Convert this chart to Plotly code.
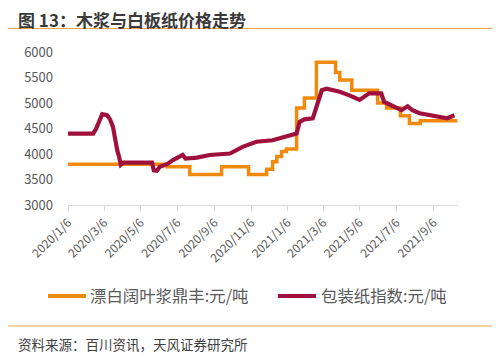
import plotly.graph_objects as go

# 漂白阔叶浆鼎丰 (step series)
pulp_dates = ["2020-01-06", "2020-06-19", "2020-07-27", "2020-09-18", "2020-11-02",
              "2020-12-02", "2020-12-12", "2020-12-19", "2020-12-27", "2021-01-04",
              "2021-01-21", "2021-02-03", "2021-02-23", "2021-03-27", "2021-04-03",
              "2021-04-23", "2021-06-05", "2021-06-20", "2021-07-13", "2021-07-28",
              "2021-08-15", "2021-10-16"]
pulp_values = [3800, 3750, 3600, 3750, 3600,
               3700, 3850, 3950, 4050, 4100,
               4900, 5100, 5800, 5600, 5450,
               5250, 5000, 4900, 4750, 4600,
               4650, 4650]

# 包装纸指数
paper_dates = ["2020-01-06", "2020-02-17", "2020-02-22", "2020-02-27", "2020-03-03",
               "2020-03-11", "2020-03-16", "2020-03-21", "2020-03-24", "2020-03-28",
               "2020-03-31", "2020-04-03", "2020-04-07", "2020-05-25", "2020-05-28",
               "2020-06-02", "2020-06-07", "2020-06-19", "2020-06-29", "2020-07-15",
               "2020-07-20", "2020-08-08", "2020-08-29", "2020-10-02", "2020-10-23",
               "2020-11-15", "2020-12-12", "2021-01-04", "2021-01-21", "2021-01-26",
               "2021-02-03", "2021-02-17", "2021-02-23", "2021-03-04", "2021-03-12",
               "2021-04-03", "2021-04-19", "2021-05-06", "2021-05-22", "2021-06-11",
               "2021-06-16", "2021-07-06", "2021-07-15", "2021-07-25", "2021-08-02",
               "2021-08-14", "2021-08-30", "2021-09-16", "2021-09-29", "2021-10-11"]
paper_values = [4400, 4400, 4500, 4650, 4780,
                4760, 4680, 4530, 4300, 4075,
                3950, 3790, 3830, 3830, 3680,
                3670, 3750, 3800, 3880, 3980,
                3910, 3930, 3980, 4010, 4140,
                4240, 4270, 4340, 4400, 4630,
                4680, 4700, 4925, 5250, 5280,
                5220, 5150, 5060, 5190, 5190,
                5020, 4925, 4860, 4935, 4860,
                4800, 4760, 4730, 4700, 4760]

series_names = ["漂白阔叶浆鼎丰:元/吨", "包装纸指数:元/吨"]

x_tick_vals = ["2020-01-06", "2020-03-06", "2020-05-06", "2020-07-06", "2020-09-06",
               "2020-11-06", "2021-01-06", "2021-03-06", "2021-05-06", "2021-07-06",
               "2021-09-06"]
x_tick_text = ["2020/1/6", "2020/3/6", "2020/5/6", "2020/7/6", "2020/9/6",
               "2020/11/6", "2021/1/6", "2021/3/6", "2021/5/6", "2021/7/6",
               "2021/9/6"]
y_tick_vals = [3000, 3500, 4000, 4500, 5000, 5500, 6000]

FONT = "Noto Sans CJK SC"
ORANGE = "#EF8A0C"
RED = "#A0103C"
GOLD = "#E9A54A"

OFF = 8  # page body margin offset
W, H = 500 - OFF, 357 - OFF
L, R, T, B = 68 - OFF, 42, 52 - OFF, 152
PW, PH = W - L - R, H - T - B


def px(xp):
    return (xp - OFF - L) / PW


def py(yp):
    return (H - B - (yp - OFF)) / PH


fig = go.Figure()
fig.add_trace(go.Scatter(x=pulp_dates, y=pulp_values, mode="lines",
                         line=dict(color=ORANGE, width=3.5, shape="hv"),
                         name=series_names[0]))
fig.add_trace(go.Scatter(x=paper_dates, y=paper_values, mode="lines",
                         line=dict(color=RED, width=4.2),
                         name=series_names[1]))

fig.update_layout(
    width=W, height=H,
    margin=dict(l=L, r=R, t=T, b=B),
    paper_bgcolor="white", plot_bgcolor="white",
    font=dict(family=FONT, color="#595959", size=12),
    showlegend=False,
    xaxis=dict(type="date", range=["2020-01-06", "2021-10-17"],
               tickmode="array", tickvals=x_tick_vals, ticktext=x_tick_text,
               tickangle=-45, showgrid=False, showline=True, linecolor="#D9D9D9",
               linewidth=1, ticks="outside", ticklen=5, tickcolor="#D9D9D9",
               tickfont=dict(size=12, color="#595959"), zeroline=False),
    yaxis=dict(range=[3000, 6000], tickmode="array", tickvals=y_tick_vals,
               showgrid=False, showline=False, zeroline=False, ticks="",
               ticklabelstandoff=14,
               tickfont=dict(size=13, color="#595959")),
)

# legend drawn manually
for (x0, x1, tx), col, name in zip([(48, 86, 88), (278, 316, 319)], [ORANGE, RED], series_names):
    fig.add_shape(type="line", xref="paper", yref="paper",
                  x0=px(x0), x1=px(x1), y0=py(296), y1=py(296),
                  line=dict(color=col, width=4))
    fig.add_annotation(text=name, xref="paper", yref="paper",
                       x=px(tx), y=py(295), xanchor="left", yanchor="middle",
                       showarrow=False, font=dict(size=16.4, color="#595959", family=FONT))

fig.add_annotation(text="<b>图 13：木浆与白板纸价格走势</b>", xref="paper", yref="paper",
                   x=px(17), y=py(19.5), xanchor="left", yanchor="middle",
                   showarrow=False, borderpad=0,
                   font=dict(size=17, color="#3A3A3A", family=FONT))
fig.add_annotation(text="资料来源：百川资讯，天风证券研究所", xref="paper", yref="paper",
                   x=px(16), y=py(344), xanchor="left", yanchor="middle",
                   showarrow=False, font=dict(size=13.5, color="#404040", family=FONT))

fig.add_shape(type="line", xref="paper", yref="paper",
              x0=px(8), x1=px(500), y0=py(28.5), y1=py(28.5),
              line=dict(color=GOLD, width=1))
fig.add_shape(type="line", xref="paper", yref="paper",
              x0=px(8), x1=px(496), y0=py(326), y1=py(326),
              line=dict(color=GOLD, width=1))

fig.write_html("out.html")
